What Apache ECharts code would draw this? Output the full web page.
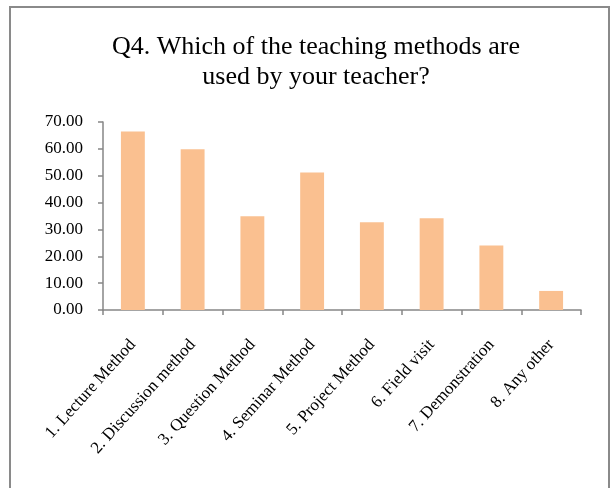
<!DOCTYPE html>
<html>
<head>
<meta charset="utf-8">
<script src="https://cdn.jsdelivr.net/npm/echarts@6/dist/echarts.min.js"></script>
<style>
  html, body { margin: 0; padding: 0; background: #fff; }
  #chart { width: 611px; height: 488px; }
</style>
</head>
<body>
<div id="chart"></div>
<script>
// data
const methods = ['1. Lecture Method', '2. Discussion method', '3. Question Method', '4. Seminar Method',
                 '5. Project Method', '6. Field visit', '7. Demonstration', '8. Any other'];
const percents = [66.5, 59.9, 34.9, 51.2, 32.7, 34.2, 24.0, 7.1];
const yTicks = [0, 10, 20, 30, 40, 50, 60, 70];

const myChart = echarts.init(document.getElementById('chart'));
const serif = '"Liberation Serif", "DejaVu Serif", serif';
const axisGray = '#868686';

const option = {
    animation: false,
    graphic: [
        {
            type: 'rect',
            shape: { x: 10, y: 7, width: 599, height: 500 },
            style: { fill: 'none', stroke: '#8a8a8a', lineWidth: 2 }
        }
    ],
    title: {
        text: 'Q4. Which of the teaching methods are\nused by your teacher?',
        left: 311,
        top: 27,
        textAlign: 'center',
        textStyle: {
            fontFamily: serif,
            fontSize: 26,
            fontWeight: 'normal',
            color: '#000',
            lineHeight: 30
        }
    },
    grid: {
        left: 103,
        right: 30,
        top: 122,
        bottom: 178
    },
    xAxis: {
        type: 'category',
        data: methods,
        boundaryGap: true,
        axisLine: { lineStyle: { color: axisGray, width: 1.5 } },
        axisTick: { show: true, alignWithLabel: false, length: 5, lineStyle: { color: axisGray, width: 1.5 } },
        axisLabel: {
            rotate: 48,
            interval: 0,
            margin: 32,
            fontFamily: serif,
            fontSize: 17,
            color: '#000'
        }
    },
    yAxis: {
        type: 'value',
        min: yTicks[0],
        max: yTicks[yTicks.length - 1],
        interval: 10,
        splitLine: { show: false },
        axisLine: { show: true, lineStyle: { color: axisGray, width: 1.5 } },
        axisTick: { show: true, length: 5, lineStyle: { color: axisGray, width: 1.5 } },
        axisLabel: {
            margin: 20,
            fontFamily: serif,
            fontSize: 17,
            color: '#000',
            formatter: v => v.toFixed(2)
        }
    },
    series: [
        {
            type: 'bar',
            data: percents,
            barWidth: '40%',
            itemStyle: { color: '#FAC090' }
        }
    ]
};
myChart.setOption(option);
</script>
</body>
</html>
